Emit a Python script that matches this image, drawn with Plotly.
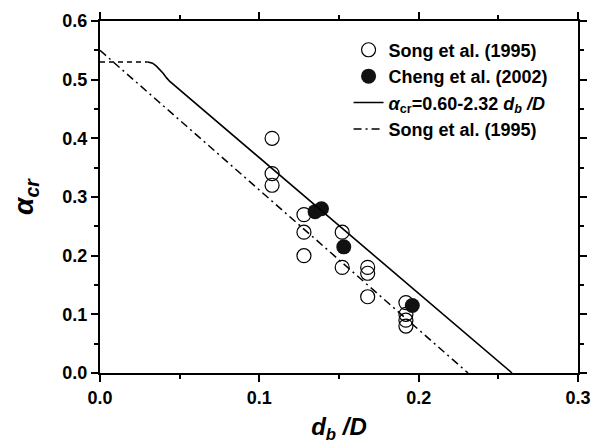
import plotly.graph_objects as go

# Song et al. (1995) experimental data (open circles)
song_x = [0.108, 0.108, 0.108, 0.128, 0.128, 0.128, 0.152, 0.152, 0.168, 0.168, 0.168,
          0.192, 0.192, 0.192, 0.192]
song_y = [0.40, 0.34, 0.32, 0.27, 0.24, 0.20, 0.24, 0.18, 0.18, 0.17, 0.13,
          0.12, 0.10, 0.09, 0.08]

# Cheng et al. (2002) data (filled circles)
cheng_x = [0.135, 0.139, 0.153, 0.196]
cheng_y = [0.275, 0.28, 0.215, 0.115]

# Model line alpha_cr = 0.60 - 2.32 d_b/D (with smooth transition from plateau)
model_x = [0.030, 0.033, 0.0354, 0.0378, 0.0396, 0.0418, 0.0438, 0.2586]
model_y = [0.530, 0.528, 0.523, 0.517, 0.511, 0.503, 0.497, 0.0]
# plateau (dashed) part of the model
plateau_x = [0.0, 0.030]
plateau_y = [0.53, 0.53]

# Song et al. (1995) correlation (dash-dot)
songline_x = [0.0, 0.231]
songline_y = [0.55, 0.0]

x_ticks = [0.0, 0.1, 0.2, 0.3]
y_ticks = [0.0, 0.1, 0.2, 0.3, 0.4, 0.5, 0.6]

FONT = "Liberation Sans, Arial, sans-serif"

fig = go.Figure()
fig.add_trace(go.Scatter(x=song_x, y=song_y, mode="markers", name="<b>Song et al. (1995)</b>",
                         marker=dict(symbol="circle-open", size=14, color="black",
                                     line=dict(width=1.2, color="black"))))
fig.add_trace(go.Scatter(x=cheng_x, y=cheng_y, mode="markers", name="<b>Cheng et al. (2002)</b>",
                         marker=dict(symbol="circle", size=15, color="#111111",
                                     line=dict(width=0))))
fig.add_trace(go.Scatter(x=model_x, y=model_y, mode="lines",
                         name="<b><i>α</i><sub>cr</sub>=0.60-2.32 <i>d</i><sub><i>b</i></sub> <i>/D</i></b>",
                         line=dict(color="black", width=1.6)))
fig.add_trace(go.Scatter(x=songline_x, y=songline_y, mode="lines", name="<b>Song et al. (1995)</b>",
                         line=dict(color="black", width=1.5, dash="8px,4px,2px,4px")))
fig.add_trace(go.Scatter(x=plateau_x, y=plateau_y, mode="lines", showlegend=False,
                         line=dict(color="black", width=1.5, dash="5px,4px")))

axis_common = dict(showgrid=False, zeroline=False, showline=True, linecolor="black",
                   linewidth=2, mirror="allticks", ticks="outside", ticklen=7,
                   tickwidth=1.5, tickcolor="black", automargin=False,
                   tickfont=dict(family=FONT, size=18, color="black"))

fig.update_xaxes(range=[0, 0.3], tickvals=x_ticks, ticktext=[f"<b>{v:.1f}</b>" for v in x_ticks],
                 minor=dict(dtick=0.05, tick0=0, ticks="outside", ticklen=4, tickwidth=1.5,
                            tickcolor="black"),
                 title=dict(text="<b><i>d</i><sub><i>b</i></sub> <i>/D</i></b>",
                            font=dict(family=FONT, size=24, color="black"), standoff=12),
                 **axis_common)
fig.update_yaxes(range=[0, 0.6], tickvals=y_ticks, ticktext=[f"<b>{v:.1f}</b>" for v in y_ticks],
                 minor=dict(dtick=0.05, tick0=0, ticks="outside", ticklen=4, tickwidth=1.5,
                            tickcolor="black"),
                 title=dict(text="<b><i>α</i><sub><i>cr</i></sub></b>",
                            font=dict(family=FONT, size=28, color="black"), standoff=25),
                 **axis_common)

fig.update_layout(
    width=600, height=445,
    margin=dict(l=92, r=30, t=13, b=80),
    plot_bgcolor="white", paper_bgcolor="white",
    font=dict(family=FONT, color="black"),
    legend=dict(x=0.52, y=0.97, xanchor="left", yanchor="top",
                bgcolor="rgba(0,0,0,0)", borderwidth=0,
                font=dict(family=FONT, size=18, color="black"),
                tracegroupgap=0, itemwidth=30),
    showlegend=True,
)

fig.write_html("out.html")
